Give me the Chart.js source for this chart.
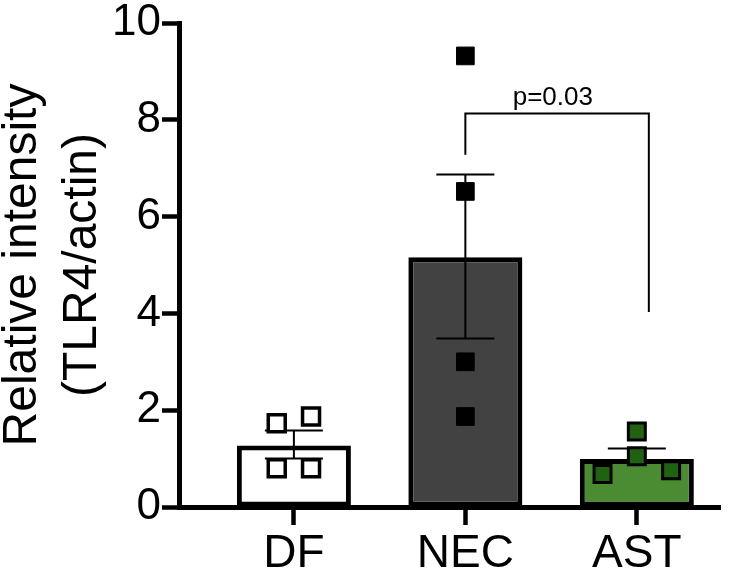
<!DOCTYPE html>
<html lang="en">
<head>
<meta charset="UTF-8">
<title>TLR4 relative intensity</title>
<script src="https://cdn.jsdelivr.net/npm/chart.js"></script>
<style>
  html, body { margin: 0; padding: 0; background: #fff; }
</style>
</head>
<body>
<canvas id="chart" width="750" height="575"></canvas>
<script>
// groups and values
var categories = ['DF', 'NEC', 'AST'];
var means = [1.27, 5.16, 0.99];
var semUp = [0.31, 1.71, 0.22];
var semDown = [0.27, 1.68, 0];
var barColors = ['#ffffff', '#424242', '#4b8b31'];

// individual samples (value, and small x offset inside the bar so they don't overlap)
var dfValues = [1.73, 1.87, 0.80, 0.80];
var dfOffsets = [-0.1, 0.1, -0.1, 0.1];
var necValues = [9.32, 6.52, 3.00, 1.87];
var necOffsets = [0, 0, 0, 0];
var astValues = [1.56, 1.05, 0.68, 0.76];
var astOffsets = [0, 0, -0.2, 0.2];

var yTicks = [0, 2, 4, 6, 8, 10];

// significance bracket NEC vs AST
var bracketX = [1, 2.07];
var bracketY = [7.28, 8.13, 4.03];   // left foot, top, right foot
var pLabel = 'p=0.03';
var pLabelX = 1.51;

var FONT = "'Liberation Sans', Arial, sans-serif";

function points(values, offsets, idx) {
  return values.map(function (v, i) { return { x: idx + offsets[i], y: v }; });
}

// error bars drawn right after the bars, before the sample squares
var errorBars = {
  id: 'errorBars',
  afterDatasetDraw: function (chart, args) {
    if (args.index !== 0) return;
    var ctx = chart.ctx, xs = chart.scales.x, ys = chart.scales.y;
    ctx.save();
    ctx.strokeStyle = '#000';
    ctx.lineWidth = 2;
    means.forEach(function (m, i) {
      var x = xs.getPixelForValue(i);
      var top = ys.getPixelForValue(m + semUp[i]);
      var bot = ys.getPixelForValue(m - semDown[i]);
      ctx.beginPath();
      ctx.moveTo(x, top); ctx.lineTo(x, bot);
      ctx.moveTo(x - 29, top); ctx.lineTo(x + 29, top);
      if (semDown[i] > 0) { ctx.moveTo(x - 29, bot); ctx.lineTo(x + 29, bot); }
      ctx.stroke();
    });
    ctx.restore();
  }
};

var sigBracket = {
  id: 'sigBracket',
  afterDraw: function (chart) {
    var ctx = chart.ctx, xs = chart.scales.x, ys = chart.scales.y;
    var x1 = xs.getPixelForValue(bracketX[0]), x2 = xs.getPixelForValue(bracketX[1]);
    var yTop = ys.getPixelForValue(bracketY[1]);
    ctx.save();
    ctx.strokeStyle = '#000';
    ctx.lineWidth = 2;
    ctx.beginPath();
    ctx.moveTo(x1, ys.getPixelForValue(bracketY[0]));
    ctx.lineTo(x1, yTop);
    ctx.lineTo(x2, yTop);
    ctx.lineTo(x2, ys.getPixelForValue(bracketY[2]));
    ctx.stroke();
    ctx.fillStyle = '#000';
    ctx.font = '26px ' + FONT;
    ctx.textAlign = 'center';
    ctx.textBaseline = 'alphabetic';
    ctx.fillText(pLabel, xs.getPixelForValue(pLabelX), yTop - 9);
    ctx.restore();
  }
};

var ctx = document.getElementById('chart').getContext('2d');
var chart = new Chart(ctx, {
  type: 'bar',
  data: {
    datasets: [
      {
        type: 'bar',
        data: means.map(function (m, i) { return { x: i, y: m }; }),
        backgroundColor: barColors,
        borderColor: '#000',
        borderWidth: 5,
        borderSkipped: false,
        barPercentage: 0.665,
        categoryPercentage: 1,
        order: 2
      },
      {
        type: 'scatter',
        data: points(dfValues, dfOffsets, 0),
        pointStyle: 'rect',
        pointRadius: 12,
        backgroundColor: '#ffffff',
        borderColor: '#000',
        borderWidth: 3.5,
        order: 1
      },
      {
        type: 'scatter',
        data: points(necValues, necOffsets, 1),
        pointStyle: 'rect',
        pointRadius: 12.5,
        backgroundColor: '#000',
        borderColor: '#000',
        borderWidth: 1,
        order: 1
      },
      {
        type: 'scatter',
        data: points(astValues, astOffsets, 2),
        pointStyle: 'rect',
        pointRadius: 12,
        backgroundColor: '#1f6311',
        borderColor: '#000',
        borderWidth: 3,
        order: 1
      }
    ]
  },
  options: {
    responsive: false,
    animation: false,
    layout: { padding: { top: 22, right: 30, bottom: 0, left: 0 } },
    plugins: { legend: { display: false }, tooltip: { enabled: false } },
    scales: {
      x: {
        type: 'linear',
        offset: false,
        min: -0.67,
        max: 2.485,
        afterBuildTicks: function (scale) {
          scale.ticks = categories.map(function (c, i) { return { value: i }; });
        },
        afterFit: function (scale) { scale.height = 68; },
        ticks: {
          callback: function (v) { return categories[v]; },
          color: '#000',
          font: { family: FONT, size: 46 },
          padding: 2,
          maxRotation: 0
        },
        grid: { offset: false, drawOnChartArea: false, tickLength: 18, tickWidth: 4.5, tickColor: '#000' },
        border: { color: '#000', width: 5 }
      },
      y: {
        min: 0,
        max: 10,
        afterBuildTicks: function (scale) {
          scale.ticks = yTicks.map(function (v) { return { value: v }; });
        },
        afterFit: function (scale) { scale.width = 179; },
        ticks: {
          color: '#000',
          font: { family: FONT, size: 44, lineHeight: 1 },
          padding: 1
        },
        grid: { drawOnChartArea: false, tickLength: 17, tickWidth: 4.5, tickColor: '#000' },
        border: { color: '#000', width: 5 },
        title: {
          display: true,
          text: ['Relative intensity', '(TLR4/actin)'],
          color: '#000',
          font: { family: FONT, size: 48, lineHeight: 1.25 },
          padding: { top: -7, bottom: 0 }
        }
      }
    }
  },
  plugins: [errorBars, sigBracket]
});
</script>
</body>
</html>
